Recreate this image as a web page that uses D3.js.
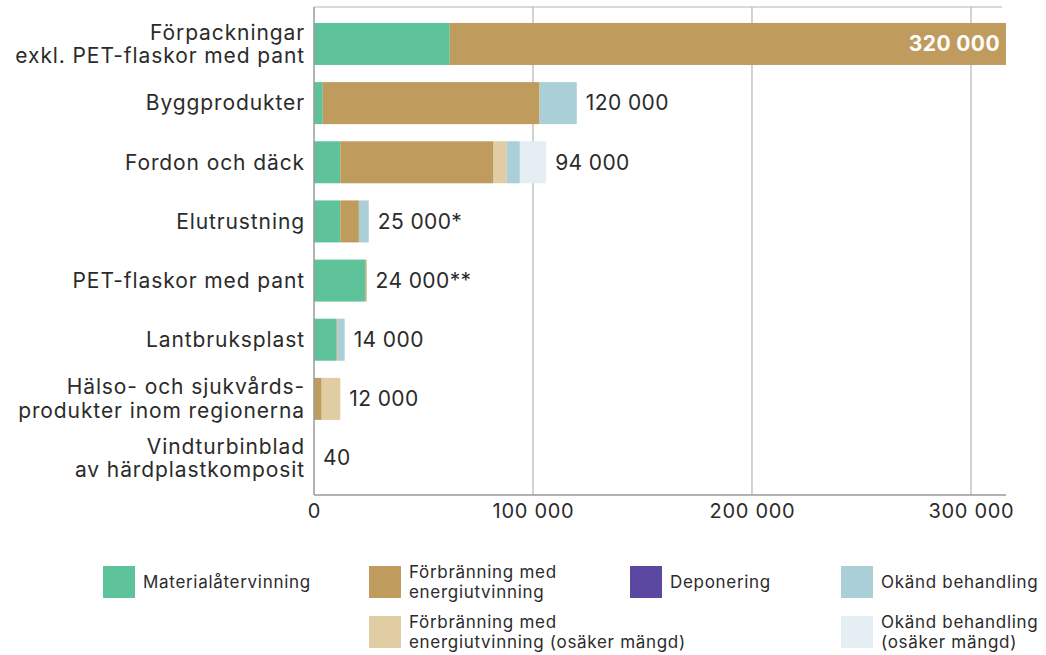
<!DOCTYPE html>
<html>
<head>
<meta charset="utf-8">
<script src="https://cdn.jsdelivr.net/npm/d3@7"></script>
<style>
  body { margin: 0; background: #fff; }
  text { font-family: Inter, "Noto Sans", sans-serif; fill: #2b2b2b; }
</style>
</head>
<body>
<script>
// categories (two-line labels split by "|")
var categories = [
  "Förpackningar|exkl. PET-flaskor med pant",
  "Byggprodukter",
  "Fordon och däck",
  "Elutrustning",
  "PET-flaskor med pant",
  "Lantbruksplast",
  "Hälso- och sjukvårds-|produkter inom regionerna",
  "Vindturbinblad|av härdplastkomposit"
];

// tonnes per treatment
var materialatervinning = [62000, 4000, 12000, 12000, 23500, 10300, 0, 0];
var forbranning        = [258000, 99000, 70000, 8500, 500, 400, 3500, 0];
var forbranningOsaker  = [0, 0, 6000, 0, 0, 0, 8500, 0];
var deponering         = [0, 0, 0, 0, 0, 0, 0, 0];
var okand              = [0, 17000, 6000, 4500, 0, 3300, 0, 40];
var okandOsaker        = [0, 0, 12000, 0, 0, 0, 0, 0];

var totalLabels = ["320 000", "120 000", "94 000", "25 000*", "24 000**", "14 000", "12 000", "40"];
var tickValues = [0, 100000, 200000, 300000];

var keys = ["mat", "forb", "forbOs", "dep", "okand", "okandOs"];
var legendNames = [
  "Materialåtervinning",
  "Förbränning med|energiutvinning",
  "Förbränning med|energiutvinning (osäker mängd)",
  "Deponering",
  "Okänd behandling",
  "Okänd behandling|(osäker mängd)"
];
var colors = ["#5ec29b", "#bf9b5e", "#e0cda3", "#5a479f", "#aacfd7", "#e4eef3"];

var width = 1046, height = 655;
var svg = d3.select("body").append("svg")
    .attr("width", width)
    .attr("height", height);

// build table for d3.stack
var table = categories.map((c, i) => ({
    cat: c,
    mat: materialatervinning[i],
    forb: forbranning[i],
    forbOs: forbranningOsaker[i],
    dep: deponering[i],
    okand: okand[i],
    okandOs: okandOsaker[i]
}));

var x = d3.scaleLinear()
    .domain([0, 316000])
    .range([314, 1006])
    .clamp(true);

var y = d3.scaleBand()
    .domain(categories)
    .range([7, 495])
    .paddingInner(0.29)
    .paddingOuter(0.27);

var color = d3.scaleOrdinal().domain(keys).range(colors);

// gridlines
svg.append("g")
    .selectAll("line")
    .data(tickValues.slice(1))
    .enter().append("line")
    .attr("x1", d => x(d)).attr("x2", d => x(d))
    .attr("y1", 7).attr("y2", 495)
    .attr("stroke", "#b4b4b4")
    .attr("stroke-width", 1.2);

// top frame line
svg.append("line")
    .attr("x1", x(0)).attr("x2", 1002)
    .attr("y1", 7).attr("y2", 7)
    .attr("stroke", "#b4b4b4")
    .attr("stroke-width", 1.2);

var stacked = d3.stack().keys(keys)(table);

svg.append("g")
    .selectAll("g")
    .data(stacked)
    .enter().append("g")
    .attr("fill", d => color(d.key))
    .selectAll("rect")
    .data(d => d)
    .enter().append("rect")
    .attr("x", d => x(d[0]))
    .attr("width", d => Math.max(0, x(d[1]) - x(d[0])))
    .attr("y", d => y(d.data.cat))
    .attr("height", y.bandwidth());

// value labels
var ends = table.map(d => keys.reduce((s, k) => s + d[k], 0));
svg.append("g")
    .selectAll("text")
    .data(categories)
    .enter().append("text")
    .attr("x", (d, i) => i === 0 ? x(ends[i]) - 6 : x(ends[i]) + 9)
    .attr("y", d => y(d) + y.bandwidth() / 2)
    .attr("dy", "0.35em")
    .attr("text-anchor", (d, i) => i === 0 ? "end" : "start")
    .attr("font-size", "21px")
    .attr("letter-spacing", "0.4px")
    .attr("font-weight", (d, i) => i === 0 ? "bold" : "normal")
    .style("fill", (d, i) => i === 0 ? "#fff" : "#2b2b2b")
    .text((d, i) => totalLabels[i]);

// category labels
var cat = svg.append("g")
    .selectAll("text")
    .data(categories)
    .enter().append("text")
    .attr("x", 305)
    .attr("y", d => y(d) + y.bandwidth() / 2)
    .attr("text-anchor", "end")
    .attr("font-size", "21px")
    .attr("letter-spacing", "0.9px");
cat.each(function (d) {
    var lines = d.split("|");
    var t = d3.select(this);
    lines.forEach((l, j) => {
        t.append("tspan")
            .attr("x", 305)
            .attr("dy", j === 0 ? (0.35 - (lines.length - 1) * 0.56) + "em" : "1.12em")
            .text(l);
    });
});

// left and bottom axis lines
svg.append("line")
    .attr("x1", x(0)).attr("x2", x(0))
    .attr("y1", 7).attr("y2", 495)
    .attr("stroke", "#9a9a9a").attr("stroke-width", 1.5);

var xAxis = svg.append("g")
    .attr("transform", "translate(0,495)")
    .call(d3.axisBottom(x).tickValues(tickValues).tickSize(0).tickPadding(9)
        .tickFormat(d => d3.format(",")(d).replace(/,/g, " ")));
xAxis.select(".domain").attr("stroke", "#9a9a9a").attr("stroke-width", 1.5)
    .attr("d", "M" + x(0) + ",0H1006");
xAxis.selectAll("text")
    .style("font-family", "Inter, 'Noto Sans', sans-serif")
    .style("font-size", "20px")
    .style("letter-spacing", "0.7px")
    .style("fill", "#2b2b2b");

// legend
var legendPos = [
    [103, 566], [369, 566], [369, 616],
    [630, 566], [841, 566], [841, 616]
];
var lg = svg.append("g")
    .selectAll("g")
    .data(keys)
    .enter().append("g")
    .attr("transform", (d, i) => "translate(" + legendPos[i][0] + "," + legendPos[i][1] + ")");
lg.append("rect")
    .attr("width", 32).attr("height", 32)
    .attr("fill", d => color(d));
lg.append("text")
    .attr("x", 40)
    .attr("y", 16)
    .attr("font-size", "17px")
    .attr("letter-spacing", "0.7px")
    .each(function (d, i) {
        var lines = legendNames[i].split("|");
        var t = d3.select(this);
        lines.forEach((l, j) => {
            t.append("tspan")
                .attr("x", 40)
                .attr("dy", j === 0 ? (0.35 - (lines.length - 1) * 0.6) + "em" : "1.2em")
                .text(l);
        });
    });
</script>
</body>
</html>
